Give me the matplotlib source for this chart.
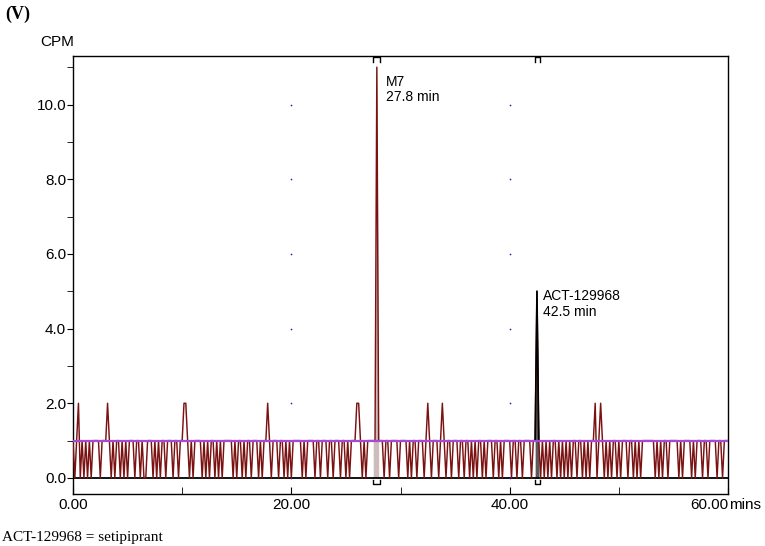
import matplotlib
matplotlib.use("Agg")
import matplotlib.pyplot as plt
import numpy as np

plt.rcParams['font.family'] = ['Liberation Sans', 'DejaVu Sans']

# ---- data ----
step_min = 1.0 / 6.0  # sampling interval (min)
cpm_rows = [
    [1, 0, 1, 2, 0, 1],   # 0 min
    [0, 1, 0, 1, 0, 1],
    [1, 1, 1, 0, 1, 1],
    [1, 2, 1, 0, 1, 0],
    [1, 1, 0, 1, 0, 1],
    [0, 1, 1, 1, 0, 1],
    [1, 0, 1, 0, 0, 1],
    [1, 1, 0, 1, 0, 1],
    [0, 1, 1, 0, 1, 1],
    [1, 0, 1, 1, 0, 1],
    [1, 2, 2, 1, 0, 1],   # 10 min
    [0, 1, 1, 1, 1, 0],
    [1, 0, 1, 0, 1, 1],
    [0, 1, 0, 1, 0, 1],
    [1, 1, 1, 1, 0, 1],
    [0, 1, 1, 0, 1, 0],
    [1, 1, 0, 1, 1, 1],
    [0, 1, 0, 1, 1, 2],
    [1, 0, 1, 1, 1, 0],
    [1, 1, 0, 1, 0, 1],
    [0, 1, 1, 1, 1, 1],   # 20 min
    [0, 1, 0, 1, 1, 1],
    [1, 0, 1, 1, 0, 1],
    [1, 1, 0, 1, 1, 0],
    [1, 1, 1, 0, 1, 1],
    [0, 1, 0, 1, 1, 1],
    [2, 2, 1, 0, 1, 0],
    [1, 1, 1, 1, 1, 11],
    [1, 1, 1, 0, 1, 1],
    [0, 1, 1, 1, 1, 0],
    [1, 1, 1, 1, 0, 1],   # 30 min
    [0, 1, 1, 0, 1, 1],
    [1, 0, 1, 2, 1, 0],
    [1, 1, 1, 0, 1, 2],
    [1, 0, 1, 1, 0, 1],
    [1, 1, 0, 1, 1, 0],
    [1, 1, 0, 1, 0, 1],
    [0, 1, 1, 0, 1, 0],
    [1, 1, 1, 0, 1, 1],
    [0, 1, 0, 1, 1, 1],
    [1, 0, 1, 1, 0, 1],   # 40 min
    [1, 0, 1, 1, 1, 1],
    [0, 1, 1, 5, 1, 0],
    [1, 0, 1, 0, 1, 0],
    [1, 1, 0, 1, 0, 1],
    [0, 1, 0, 1, 0, 1],
    [1, 0, 1, 1, 0, 1],
    [0, 1, 0, 1, 1, 2],
    [0, 1, 2, 1, 0, 1],
    [0, 1, 0, 1, 1, 0],
    [1, 0, 1, 1, 1, 0],   # 50 min
    [1, 1, 0, 1, 0, 1],
    [0, 1, 1, 1, 1, 1],
    [1, 1, 0, 1, 0, 1],
    [0, 1, 1, 0, 1, 1],
    [1, 1, 1, 0, 1, 0],
    [1, 1, 1, 1, 0, 1],
    [0, 1, 1, 1, 0, 1],
    [1, 0, 1, 1, 1, 1],
    [0, 1, 1, 0, 1, 1],
    [1],                  # 60 min
]
cpm = [v for row in cpm_rows for v in row]

peak_names = ["M7", "ACT-129968"]
peak_rt = [27.8, 42.5]
peak_start = [27.45, 42.3]
peak_end = [28.15, 42.75]
threshold_cpm = 1.0
xticks = [0, 20, 40, 60]
xticklabels = ["0.00", "20.00", "40.00", "60.00"]
yticks = [0, 2, 4, 6, 8, 10]
yticklabels = ["0.0", "2.0", "4.0", "6.0", "8.0", "10.0"]
grid_dot_x = [20, 40]

# ---- figure ----
fig = plt.figure(figsize=(7.65, 5.46), dpi=100)
ax = fig.add_axes([73 / 765, 1 - 494 / 546, (728 - 73) / 765, (494 - 56) / 546])

t = np.arange(len(cpm)) * step_min
y = np.array(cpm, dtype=float)

ymin, ymax = -0.43, 11.3
ax.set_xlim(0, 60)
ax.set_ylim(ymin, ymax)

trace_col = "#7a1212"

# M7 shaded area
m = (t >= peak_start[0]) & (t <= peak_end[0])
ax.fill_between(t[m], 0, y[m], color="#cdbcbc", lw=0, zorder=1)
# ACT peak shaded
m2 = (t >= peak_start[1]) & (t <= peak_end[1])
ax.fill_between(t[m2], 0, y[m2], color="#5a5a5a", lw=0, zorder=1)

ax.plot(t, y, color=trace_col, lw=1.05, zorder=3)
# ACT peak drawn black
ia = int(round(peak_rt[1] / step_min))
ax.plot(t[ia - 1:ia + 2], y[ia - 1:ia + 2], color="black", lw=1.2, zorder=4)

# baseline and threshold
ax.plot([0, 60], [0, 0], color="black", lw=1.3, zorder=2)
ax.plot([0, 60], [threshold_cpm, threshold_cpm], color="#a64ad6", lw=1.6, zorder=5)

# integration brackets
for s, e in zip(peak_start, peak_end):
    ax.plot([s, s, e, e], [ymax - 0.15, ymax - 0.02, ymax - 0.02, ymax - 0.15],
            color="black", lw=1.0, zorder=6, clip_on=False)
    ax.plot([s, s, e, e], [-0.05, -0.17, -0.17, -0.05],
            color="black", lw=1.0, zorder=6)

# grid dots
for gx in grid_dot_x:
    ax.scatter([gx] * len(yticks), yticks, s=1.5, color="#2020d0", zorder=2, lw=0)

# peak labels
ax.text(peak_rt[0] + 0.9, 10.8, f"{peak_names[0]}\n{peak_rt[0]:.1f} min",
        fontsize=10, va="top", ha="left", linespacing=1.15)
ax.text(peak_rt[1] + 0.55, 5.05, f"{peak_names[1]}\n{peak_rt[1]:.1f} min",
        fontsize=10, va="top", ha="left", linespacing=1.15)

# axes styling
for sp in ax.spines.values():
    sp.set_linewidth(1.0)
ax.set_xticks(xticks)
ax.set_xticklabels(xticklabels, fontsize=11)
ax.get_xticklabels()[-1].set_horizontalalignment("right")
ax.set_xticks([10, 30, 50], minor=True)
ax.set_yticks(yticks)
ax.set_yticklabels(yticklabels, fontsize=11)
ax.set_yticks([1, 3, 5, 7, 9, 11], minor=True)
ax.tick_params(axis="x", which="both", direction="in", length=5, pad=3)
ax.tick_params(axis="y", which="major", direction="out", length=4, pad=1)
ax.tick_params(axis="y", which="minor", direction="out", length=4)
ax.tick_params(axis="y", which="minor", labelleft=False)

fig.text(729 / 765, 1 - 505 / 546, "mins", fontsize=11, ha="left", va="center")
fig.text(40 / 765, 1 - 42 / 546, "CPM", fontsize=11, ha="left", va="center")
fig.text(5 / 765, 1 - 14 / 546, "(V)", fontsize=13, fontweight="bold",
         family=["Liberation Serif"], ha="left", va="center")
fig.text(2 / 765, 1 - 537 / 546, "ACT-129968 = setipiprant", fontsize=11,
         family=["Liberation Serif"], ha="left", va="center")

fig.savefig("out.png", dpi=100)
